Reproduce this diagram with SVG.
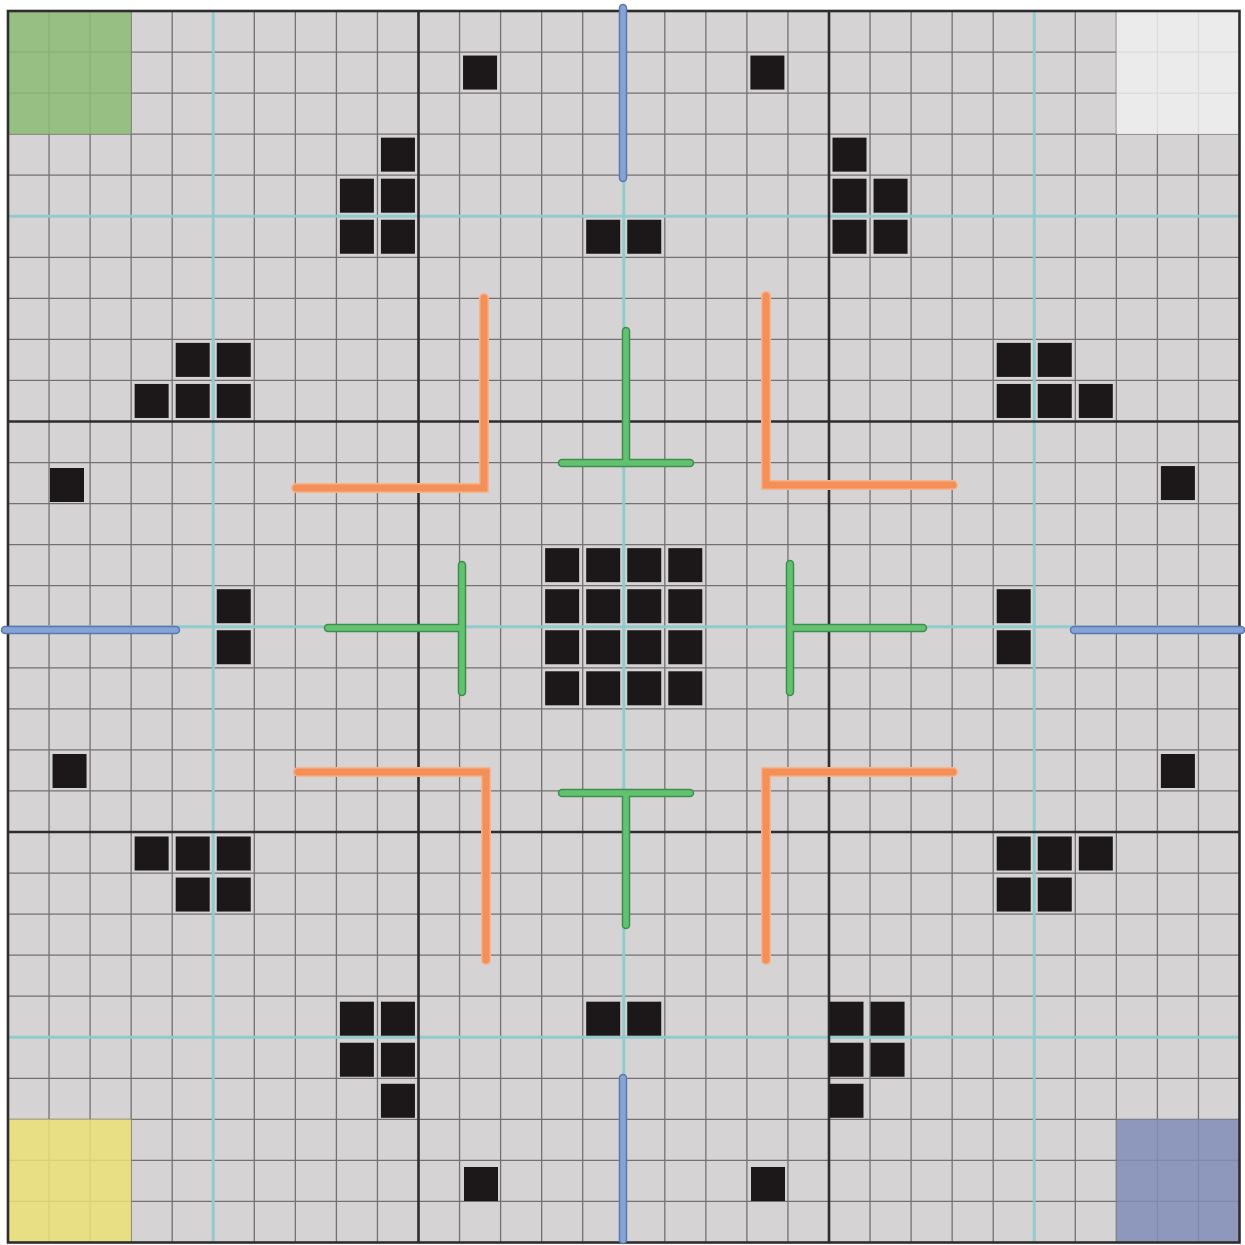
<svg xmlns="http://www.w3.org/2000/svg" xmlns:xlink="http://www.w3.org/1999/xlink" width="1245" height="1245" viewBox="0 0 1245 1245">
<style>
.thin{stroke:#737172;stroke-width:1.3;fill:none}
.thick{stroke:#2e2c2d;stroke-width:2.6;fill:none}
.cyan{stroke:#92cbcb;stroke-width:3;fill:none}
.sq{fill:#1c1819}
.corner{opacity:0.85}
.o1{stroke:#f7b38c;stroke-width:10;fill:none;stroke-linecap:round;stroke-linejoin:miter}
.o2{stroke:#f38f57;stroke-width:7;fill:none;stroke-linecap:round;stroke-linejoin:miter}
.g1{stroke:#3f8d4e;stroke-width:8.5;fill:none;stroke-linecap:round}
.g2{stroke:#63c270;stroke-width:5.5;fill:none;stroke-linecap:round}
.b1{stroke:#5c77ac;stroke-width:8.5;fill:none;stroke-linecap:round}
.b2{stroke:#86a3d8;stroke-width:5.5;fill:none;stroke-linecap:round}
</style>
<defs>
<path id="orangePath" d="M296,488 H484 V298 M953,485 H766 V296 M298,772 H486 V960 M953,772 H766 V960"/>
<path id="greenPath" d="M626,331 V463 M562,463 H690 M562,793 H690 M626,795 V925 M328,628 H460 M462,565 V692 M790,564 V692 M792,628 H923"/>
<path id="bluePath" d="M623,8 V178 M623,1078 V1240 M5,630 H176 M1074,630 H1241"/>
</defs>
<rect x="0" y="0" width="1245" height="1245" fill="#ffffff"/>
<rect x="8" y="11" width="1231.5" height="1231.5" fill="#d5d3d4"/>
<g id="grid-thin">
<path class="thin" d="M49.05,11V1242.5M90.1,11V1242.5M131.15,11V1242.5M172.2,11V1242.5M213.25,11V1242.5M254.3,11V1242.5M295.35,11V1242.5M336.4,11V1242.5M377.45,11V1242.5M459.55,11V1242.5M500.6,11V1242.5M541.65,11V1242.5M582.7,11V1242.5M623.75,11V1242.5M664.8,11V1242.5M705.85,11V1242.5M746.9,11V1242.5M787.95,11V1242.5M870.05,11V1242.5M911.1,11V1242.5M952.15,11V1242.5M993.2,11V1242.5M1034.25,11V1242.5M1075.3,11V1242.5M1116.35,11V1242.5M1157.4,11V1242.5M1198.45,11V1242.5"/>
<path class="thin" d="M8,52.05H1239.5M8,93.1H1239.5M8,134.15H1239.5M8,175.2H1239.5M8,216.25H1239.5M8,257.3H1239.5M8,298.35H1239.5M8,339.4H1239.5M8,380.45H1239.5M8,462.55H1239.5M8,503.6H1239.5M8,544.65H1239.5M8,585.7H1239.5M8,626.75H1239.5M8,667.8H1239.5M8,708.85H1239.5M8,749.9H1239.5M8,790.95H1239.5M8,873.05H1239.5M8,914.1H1239.5M8,955.15H1239.5M8,996.2H1239.5M8,1037.25H1239.5M8,1078.3H1239.5M8,1119.35H1239.5M8,1160.4H1239.5M8,1201.45H1239.5"/>
</g>
<g id="corners">
<rect class="corner" x="8" y="11" width="123.15" height="123.15" fill="#8cbb75"/>
<rect class="corner" x="1116.35" y="11" width="123.15" height="123.15" fill="#eeeeee"/>
<rect class="corner" x="8" y="1119.35" width="123.15" height="123.15" fill="#ebe176"/>
<rect class="corner" x="1116.35" y="1119.35" width="123.15" height="123.15" fill="#818db9"/>
</g>
<g id="grid-cyan">
<path class="cyan" d="M213.25,11V1242.5M623.75,11V1242.5M1034.25,11V1242.5M8,216.25H1239.5M8,626.75H1239.5M8,1037.25H1239.5"/>
</g>
<g id="grid-thick">
<path class="thick" d="M418.5,11V1242.5M829,11V1242.5M8,421.5H1239.5M8,832H1239.5"/>
<rect class="thick" x="8" y="11" width="1231.5" height="1231.5"/>
</g>
<g id="blocks">
<rect class="sq" x="463.05" y="55.55" width="34" height="34"/>
<rect class="sq" x="750.4" y="55.55" width="34" height="34"/>
<rect class="sq" x="380.95" y="137.65" width="34" height="34"/>
<rect class="sq" x="339.9" y="178.7" width="34" height="34"/>
<rect class="sq" x="380.95" y="178.7" width="34" height="34"/>
<rect class="sq" x="339.9" y="219.75" width="34" height="34"/>
<rect class="sq" x="380.95" y="219.75" width="34" height="34"/>
<rect class="sq" x="832.5" y="137.65" width="34" height="34"/>
<rect class="sq" x="832.5" y="178.7" width="34" height="34"/>
<rect class="sq" x="873.55" y="178.7" width="34" height="34"/>
<rect class="sq" x="832.5" y="219.75" width="34" height="34"/>
<rect class="sq" x="873.55" y="219.75" width="34" height="34"/>
<rect class="sq" x="586.2" y="219.75" width="34" height="34"/>
<rect class="sq" x="627.25" y="219.75" width="34" height="34"/>
<rect class="sq" x="175.7" y="342.9" width="34" height="34"/>
<rect class="sq" x="216.75" y="342.9" width="34" height="34"/>
<rect class="sq" x="134.65" y="383.95" width="34" height="34"/>
<rect class="sq" x="175.7" y="383.95" width="34" height="34"/>
<rect class="sq" x="216.75" y="383.95" width="34" height="34"/>
<rect class="sq" x="996.7" y="342.9" width="34" height="34"/>
<rect class="sq" x="1037.75" y="342.9" width="34" height="34"/>
<rect class="sq" x="996.7" y="383.95" width="34" height="34"/>
<rect class="sq" x="1037.75" y="383.95" width="34" height="34"/>
<rect class="sq" x="1078.8" y="383.95" width="34" height="34"/>
<rect class="sq" x="50" y="468" width="34" height="34"/>
<rect class="sq" x="1160.9" y="466.05" width="34" height="34"/>
<rect class="sq" x="216.75" y="589.2" width="34" height="34"/>
<rect class="sq" x="216.75" y="630.25" width="34" height="34"/>
<rect class="sq" x="996.7" y="589.2" width="34" height="34"/>
<rect class="sq" x="996.7" y="630.25" width="34" height="34"/>
<rect class="sq" x="545.15" y="548.15" width="34" height="34"/>
<rect class="sq" x="586.2" y="548.15" width="34" height="34"/>
<rect class="sq" x="627.25" y="548.15" width="34" height="34"/>
<rect class="sq" x="668.3" y="548.15" width="34" height="34"/>
<rect class="sq" x="545.15" y="589.2" width="34" height="34"/>
<rect class="sq" x="586.2" y="589.2" width="34" height="34"/>
<rect class="sq" x="627.25" y="589.2" width="34" height="34"/>
<rect class="sq" x="668.3" y="589.2" width="34" height="34"/>
<rect class="sq" x="545.15" y="630.25" width="34" height="34"/>
<rect class="sq" x="586.2" y="630.25" width="34" height="34"/>
<rect class="sq" x="627.25" y="630.25" width="34" height="34"/>
<rect class="sq" x="668.3" y="630.25" width="34" height="34"/>
<rect class="sq" x="545.15" y="671.3" width="34" height="34"/>
<rect class="sq" x="586.2" y="671.3" width="34" height="34"/>
<rect class="sq" x="627.25" y="671.3" width="34" height="34"/>
<rect class="sq" x="668.3" y="671.3" width="34" height="34"/>
<rect class="sq" x="52.55" y="754" width="34" height="34"/>
<rect class="sq" x="1160.9" y="754" width="34" height="34"/>
<rect class="sq" x="134.65" y="836.5" width="34" height="34"/>
<rect class="sq" x="175.7" y="836.5" width="34" height="34"/>
<rect class="sq" x="216.75" y="836.5" width="34" height="34"/>
<rect class="sq" x="175.7" y="877.55" width="34" height="34"/>
<rect class="sq" x="216.75" y="877.55" width="34" height="34"/>
<rect class="sq" x="996.7" y="836.5" width="34" height="34"/>
<rect class="sq" x="1037.75" y="836.5" width="34" height="34"/>
<rect class="sq" x="1078.8" y="836.5" width="34" height="34"/>
<rect class="sq" x="996.7" y="877.55" width="34" height="34"/>
<rect class="sq" x="1037.75" y="877.55" width="34" height="34"/>
<rect class="sq" x="339.9" y="1001.7" width="34" height="34"/>
<rect class="sq" x="380.95" y="1001.7" width="34" height="34"/>
<rect class="sq" x="339.9" y="1042.75" width="34" height="34"/>
<rect class="sq" x="380.95" y="1042.75" width="34" height="34"/>
<rect class="sq" x="380.95" y="1083.8" width="34" height="34"/>
<rect class="sq" x="829.5" y="1001.7" width="34" height="34"/>
<rect class="sq" x="870.55" y="1001.7" width="34" height="34"/>
<rect class="sq" x="829.5" y="1042.75" width="34" height="34"/>
<rect class="sq" x="870.55" y="1042.75" width="34" height="34"/>
<rect class="sq" x="829.5" y="1083.8" width="34" height="34"/>
<rect class="sq" x="586.2" y="1001.7" width="34" height="34"/>
<rect class="sq" x="627.25" y="1001.7" width="34" height="34"/>
<rect class="sq" x="464" y="1167" width="34" height="34"/>
<rect class="sq" x="751" y="1167" width="34" height="34"/>
</g>
<g id="connectors">
<use xlink:href="#orangePath" class="o1"/>
<use xlink:href="#orangePath" class="o2"/>
<use xlink:href="#greenPath" class="g1"/>
<use xlink:href="#greenPath" class="g2"/>
<use xlink:href="#bluePath" class="b1"/>
<use xlink:href="#bluePath" class="b2"/>
</g>
</svg>
